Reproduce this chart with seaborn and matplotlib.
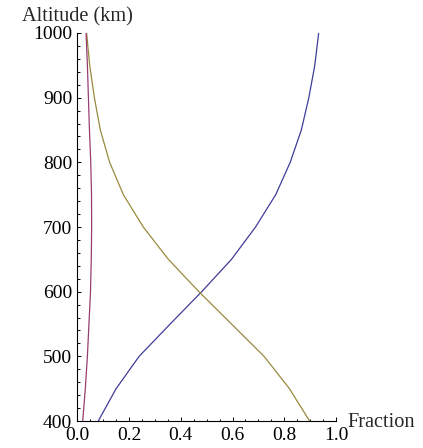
import matplotlib
matplotlib.use("Agg")
import matplotlib.pyplot as plt
from matplotlib.ticker import MultipleLocator, FormatStrFormatter
import pandas as pd
import seaborn as sns

# Altitude grid (km) and composition fractions of the upper atmosphere
altitude = [400, 450, 500, 550, 600, 650, 700, 750, 800, 850, 900, 950, 1000]
hydrogen = [0.081, 0.150, 0.239, 0.359, 0.481, 0.596, 0.689, 0.767, 0.823, 0.866, 0.895, 0.918, 0.933]
oxygen = [0.898, 0.820, 0.722, 0.596, 0.470, 0.352, 0.255, 0.178, 0.125, 0.089, 0.066, 0.048, 0.036]
helium = [0.021, 0.031, 0.039, 0.045, 0.051, 0.054, 0.0555, 0.055, 0.052, 0.047, 0.043, 0.039, 0.034]

x_ticks = [0.0, 0.2, 0.4, 0.6, 0.8, 1.0]
y_ticks = [400, 500, 600, 700, 800, 900, 1000]

species_colors = {
    "H": "#3f3d99",
    "He": "#993d71",
    "O": "#998b3d",
}

frames = []
for name, values in (("H", hydrogen), ("O", oxygen), ("He", helium)):
    frames.append(pd.DataFrame({"altitude": altitude, "fraction": values, "species": name}))
df = pd.concat(frames, ignore_index=True)

sns.set_theme(style="white")
plt.rcParams["font.family"] = ["Liberation Serif", "DejaVu Serif"]

fig = plt.figure(figsize=(4.23, 4.48), dpi=100)
ax = fig.add_axes([77.3 / 423, 1 - 421 / 448, (336 - 77.3) / 423, (421 - 33) / 448])

sns.lineplot(
    data=df, x="fraction", y="altitude", hue="species",
    palette=species_colors, estimator=None, sort=False, orient="y",
    linewidth=0.9, legend=False, ax=ax,
)

ax.set_xlim(0, 1.0)
ax.set_ylim(400, 1000)
ax.set_xticks(x_ticks)
ax.set_yticks(y_ticks)
ax.xaxis.set_major_formatter(FormatStrFormatter("%.1f"))
ax.yaxis.set_major_formatter(FormatStrFormatter("%d"))
ax.xaxis.set_minor_locator(MultipleLocator(0.05))
ax.yaxis.set_minor_locator(MultipleLocator(20))

ax.tick_params(axis="both", which="both", direction="in", color="black",
               width=0.7, labelsize=14, labelcolor="black")
ax.tick_params(axis="both", which="major", length=3.2)
ax.tick_params(axis="both", which="minor", length=1.8)
ax.tick_params(axis="y", which="major", pad=3.6)
ax.tick_params(axis="x", which="major", pad=4.0)
ax.tick_params(left=True, bottom=True, which="both")

for side in ("top", "right"):
    ax.spines[side].set_visible(False)
for side in ("left", "bottom"):
    ax.spines[side].set_color("black")
    ax.spines[side].set_linewidth(0.8)

ax.set_xlabel("")
ax.set_ylabel("")
ax.patch.set_alpha(0)

fig.text(77 / 423, 1 - 21 / 448, "Altitude (km)", ha="center", va="baseline", fontsize=14.6)
fig.text(347 / 423, 1 - 427 / 448, "Fraction", ha="left", va="baseline", fontsize=14.6)

fig.savefig("out.png", dpi=100, facecolor="white")
